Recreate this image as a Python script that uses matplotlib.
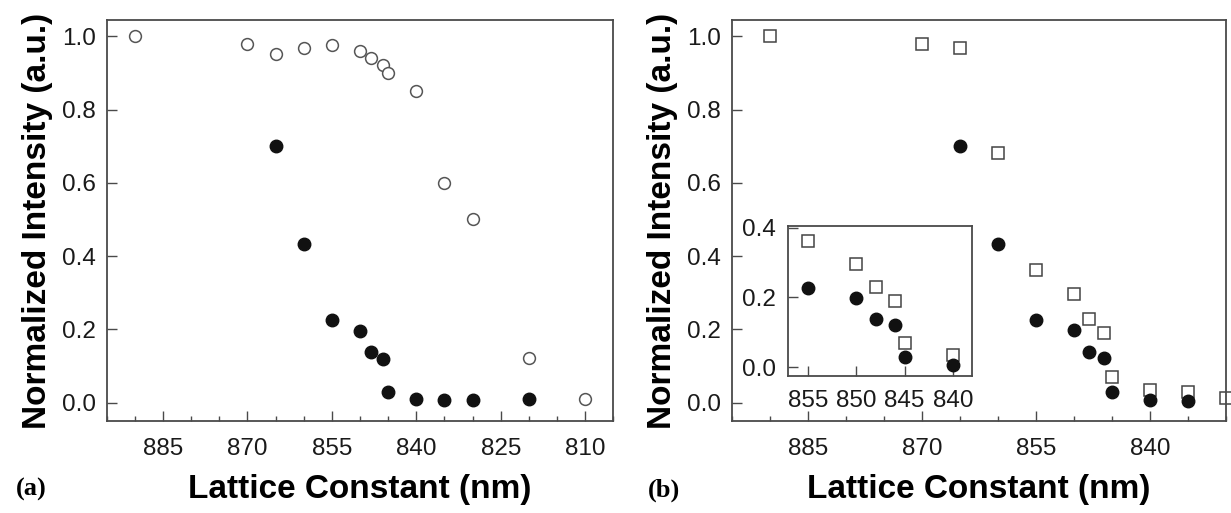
import numpy as np
import matplotlib.pyplot as plt
from matplotlib.ticker import MultipleLocator, NullLocator

plt.rcParams["font.family"] = ["Liberation Sans", "DejaVu Sans"]

# -------------------------
# Data
# -------------------------

# (a) open circles / filled circles
x_open_a = [890, 870, 865, 860, 855, 850, 848, 846, 845, 840, 835, 830, 820, 810]
y_open_a = [1.00, 0.98, 0.951, 0.969, 0.976, 0.961, 0.941, 0.923, 0.900, 0.850, 0.601, 0.502, 0.123, 0.010]

x_fill_a = [865, 860, 855, 850, 848, 846, 845, 840, 835, 830, 820]
y_fill_a = [0.701, 0.434, 0.227, 0.197, 0.138, 0.120, 0.030, 0.009, 0.007, 0.007, 0.010]

# (b) open squares / filled circles
x_sq_b = [890, 870, 865, 860, 855, 850, 848, 846, 845, 840, 835, 830]
y_sq_b = [1.00, 0.98, 0.968, 0.683, 0.363, 0.297, 0.229, 0.190, 0.069, 0.035, 0.028, 0.014]

x_fill_b = [865, 860, 855, 850, 848, 846, 845, 840, 835]
y_fill_b = [0.700, 0.433, 0.226, 0.199, 0.138, 0.121, 0.029, 0.007, 0.005]

# inset of (b)
x_sq_in = [855, 850, 848, 846, 845, 840]
y_sq_in = [0.363, 0.297, 0.229, 0.190, 0.069, 0.035]
x_fill_in = [855, 850, 848, 846, 845, 840]
y_fill_in = [0.226, 0.199, 0.138, 0.121, 0.029, 0.007]

# -------------------------
# Style helpers
# -------------------------

spine_color = "#4a4a4a"
tick_fs = 17.5
label_fs = 24


def style_axes(ax, fs=tick_fs):
    for s in ax.spines.values():
        s.set_color(spine_color)
        s.set_linewidth(1.3)
    ax.tick_params(which="both", direction="in", colors=spine_color,
                   labelcolor="#1a1a1a", labelsize=fs, width=1.0)
    ax.tick_params(which="major", length=7)
    ax.tick_params(which="minor", length=3.5)
    ax.tick_params(axis="x", top=False, pad=12)
    ax.tick_params(axis="y", right=False, pad=8)


open_kw = dict(linestyle="none", marker="o", markersize=8.5, markerfacecolor="white",
               markeredgecolor="#555555", markeredgewidth=1.1)
fill_kw = dict(linestyle="none", marker="o", markersize=9, color="#111111")
sq_kw = dict(linestyle="none", marker="s", markersize=8, markerfacecolor="white",
             markeredgecolor="#444444", markeredgewidth=1.1)

fig = plt.figure(figsize=(12.31, 5.13), dpi=100)

# -------------------------
# Panel (a)
# -------------------------
ax1 = fig.add_axes([0.0867, 0.1793, 0.4115, 0.7817])
ax1.plot(x_open_a, y_open_a, **open_kw)
ax1.plot(x_fill_a, y_fill_a, **fill_kw)
ax1.set_xlim(895, 805)
ax1.set_ylim(-0.05, 1.045)
ax1.xaxis.set_major_locator(MultipleLocator(15))
ax1.xaxis.set_minor_locator(MultipleLocator(5))
ax1.yaxis.set_major_locator(MultipleLocator(0.2))
ax1.yaxis.set_major_formatter(plt.FuncFormatter(lambda v, p: f"{v:.1f}"))
style_axes(ax1)
ax1.set_xlabel("Lattice Constant (nm)", fontsize=label_fs, fontweight="bold", labelpad=10)
ax1.set_ylabel("Normalized Intensity (a.u.)", fontsize=label_fs, fontweight="bold", labelpad=6)

# -------------------------
# Panel (b)
# -------------------------
ax2 = fig.add_axes([0.5944, 0.1793, 0.4015, 0.7817])
ax2.plot(x_sq_b, y_sq_b, clip_on=False, **sq_kw)
ax2.plot(x_fill_b, y_fill_b, **fill_kw)
ax2.set_xlim(895, 830)
ax2.set_ylim(-0.05, 1.045)
ax2.xaxis.set_major_locator(MultipleLocator(15))
ax2.xaxis.set_minor_locator(MultipleLocator(5))
ax2.yaxis.set_major_locator(MultipleLocator(0.2))
ax2.yaxis.set_major_formatter(plt.FuncFormatter(lambda v, p: f"{v:.1f}"))
style_axes(ax2)
ax2.set_xlabel("Lattice Constant (nm)", fontsize=label_fs, fontweight="bold", labelpad=10)
ax2.set_ylabel("Normalized Intensity (a.u.)", fontsize=label_fs, fontweight="bold", labelpad=6)

# inset
axi = fig.add_axes([0.6404, 0.2676, 0.1495, 0.2918])
axi.plot(x_sq_in, y_sq_in, **sq_kw)
axi.plot(x_fill_in, y_fill_in, **fill_kw)
axi.set_xlim(857, 838)
axi.set_ylim(-0.025, 0.405)
axi.xaxis.set_major_locator(MultipleLocator(5))
axi.xaxis.set_minor_locator(NullLocator())
axi.yaxis.set_major_locator(MultipleLocator(0.2))
axi.yaxis.set_major_formatter(plt.FuncFormatter(lambda v, p: f"{v:.1f}"))
style_axes(axi)
axi.tick_params(axis="x", pad=10)
axi.tick_params(axis="y", pad=9)

# panel letters
fig.text(0.025, 0.045, "(a)", fontsize=19, fontweight="bold",
         family=["Liberation Serif", "DejaVu Serif"], ha="center", va="center")
fig.text(0.539, 0.045, "(b)", fontsize=19, fontweight="bold",
         family=["Liberation Serif", "DejaVu Serif"], ha="center", va="center")

fig.savefig("out.png", dpi=100)
